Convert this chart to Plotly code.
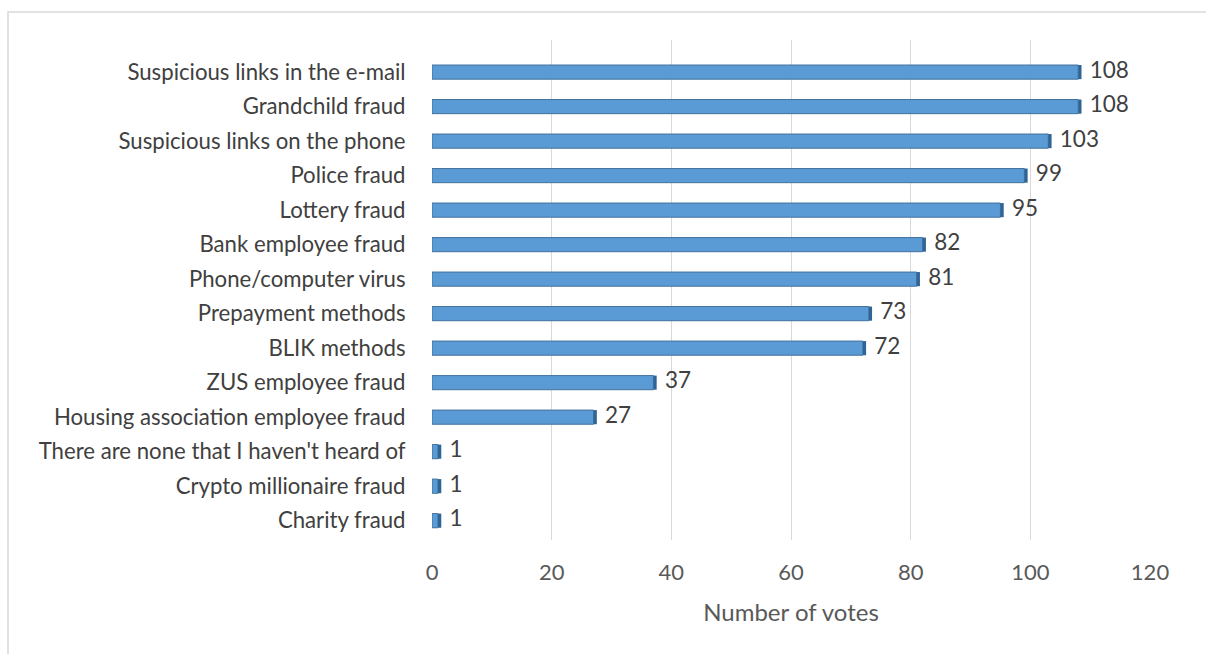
import plotly.graph_objects as go

categories = ["Suspicious links in the e-mail", "Grandchild fraud", "Suspicious links on the phone",
              "Police fraud", "Lottery fraud", "Bank employee fraud", "Phone/computer virus",
              "Prepayment methods", "BLIK methods", "ZUS employee fraud",
              "Housing association employee fraud", "There are none that I haven't heard of",
              "Crypto millionaire fraud", "Charity fraud"]
votes = [108, 108, 103, 99, 95, 82, 81, 73, 72, 37, 27, 1, 1, 1]
x_ticks = [0, 20, 40, 60, 80, 100, 120]

W, H = 1206, 654
font_fam = "Lato, Open Sans, sans-serif"

fig = go.Figure()
fig.add_trace(go.Bar(
    y=categories, x=votes, orientation="h", width=0.41,
    marker=dict(color="#5B9BD5", line=dict(color="#41719C", width=1)),
    hoverinfo="skip", showlegend=False))
fig.add_trace(go.Bar(
    y=categories, x=[0.55] * len(votes), base=votes, orientation="h", width=0.41,
    marker=dict(color="#2F6496", line=dict(width=0)),
    hoverinfo="skip", showlegend=False))
fig.add_trace(go.Scatter(
    y=categories, x=votes, mode="text", text=["  " + str(v) for v in votes],
    textposition="middle right", textfont=dict(size=22.5, color="#404040", family=font_fam),
    hoverinfo="skip", showlegend=False, cliponaxis=False))

fig.update_layout(
    width=W, height=H, barmode="overlay",
    paper_bgcolor="white", plot_bgcolor="white",
    margin=dict(l=432, r=W - 1150, t=40, b=H - 540),
    font=dict(family=font_fam, color="#595959"),
    xaxis=dict(range=[0, 120], tickvals=x_ticks, showgrid=True, gridcolor="#D9D9D9", gridwidth=1,
               zeroline=False, showline=False, ticks="outside", ticklen=13, tickcolor="rgba(0,0,0,0)",
               tickfont=dict(size=22, color="#595959"),
               title=dict(text="Number of votes", font=dict(size=24, color="#595959"), standoff=19)),
    yaxis=dict(categoryorder="array", categoryarray=categories, range=[13.56, -0.93],
               showgrid=False, zeroline=False, showline=False,
               ticks="outside", ticklen=21, tickcolor="rgba(0,0,0,0)",
               tickfont=dict(size=22.2, color="#404040")),
    shapes=[dict(type="rect", xref="paper", yref="paper",
                 x0=(8 - 432) / (1150 - 432), x1=(1215 - 432) / (1150 - 432),
                 y0=-(660 - 540) / 500, y1=(540 - 12) / 500,
                 line=dict(color="#D9D9D9", width=1.5), layer="below")],
)

fig.write_html("out.html")
